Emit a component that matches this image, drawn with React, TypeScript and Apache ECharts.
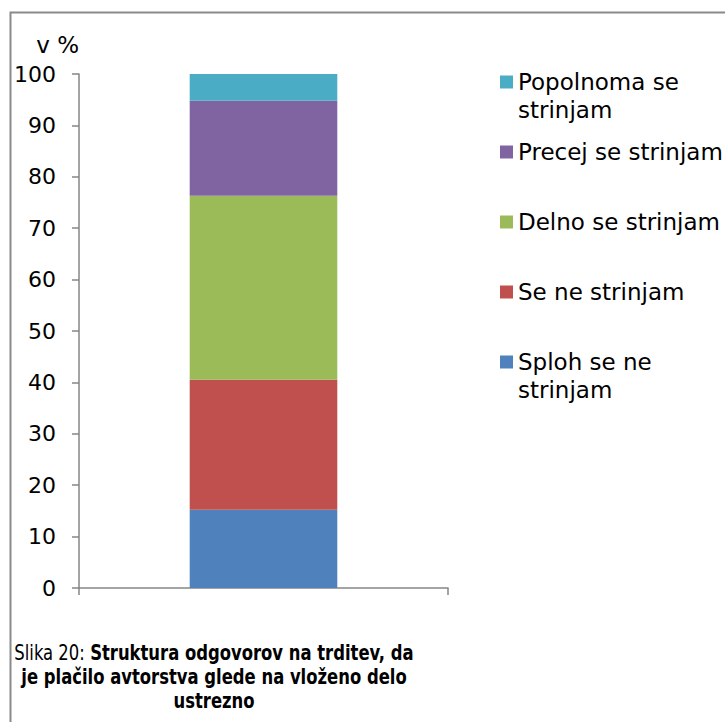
import React, { useEffect, useRef } from "react";
import * as echarts from "echarts";

const categories = [""];
const seriesNames = [
  "Sploh se ne strinjam",
  "Se ne strinjam",
  "Delno se strinjam",
  "Precej se strinjam",
  "Popolnoma se strinjam",
];
const legendLabels = [
  "\nSploh se ne\nstrinjam",
  "Se ne strinjam",
  "Delno se strinjam",
  "Precej se strinjam",
  "\nPopolnoma se\nstrinjam",
];
const seriesValues = [15.2, 25.3, 35.8, 18.5, 5.2];
const seriesColors = ["#4F81BD", "#C0504D", "#9BBB59", "#8064A2", "#4BACC6"];
const legendTops = [320, 278, 208, 138, 40];
const yTicks = { min: 0, max: 100, interval: 10 };
const captionLines = [
  "{a|Slika 20: }{b|Struktura odgovorov na trditev, da}",
  "{b|je plačilo avtorstva glede na vloženo delo}",
  "{b|ustrezno}",
];

export default function App() {
  const ref = useRef<HTMLDivElement>(null);
  useEffect(() => {
    if (!ref.current) return;
    const chart = echarts.init(ref.current, undefined, { renderer: "svg" });
    const font = "DejaVu Sans";
    const titleFont = "'DejaVu Sans Condensed', 'DejaVu Sans', sans-serif";
    const legends = seriesNames.map((name, i) => ({
      data: [name],
      left: 500,
      top: legendTops[i],
      padding: 0,
      itemWidth: 13,
      itemHeight: 13,
      icon: "rect",
      formatter: () => legendLabels[i],
      textStyle: { fontFamily: font, fontSize: 23, color: "#000", lineHeight: 28 },
      selectedMode: false,
    }));
    chart.setOption({
      animation: false,
      backgroundColor: "#fff",
      legend: legends,
      grid: { left: 79, right: 277, top: 74, bottom: 134, containLabel: false },
      xAxis: {
        type: "category",
        data: categories,
        boundaryGap: true,
        axisLine: { lineStyle: { color: "#868686", width: 1.5 } },
        axisTick: { show: true, length: 7, lineStyle: { color: "#868686", width: 1.5 } },
        axisLabel: { show: false },
      },
      yAxis: {
        type: "value",
        min: yTicks.min,
        max: yTicks.max,
        interval: yTicks.interval,
        name: "v %",
        nameLocation: "end",
        nameGap: 18,
        nameTextStyle: { fontFamily: font, fontSize: 23, color: "#000", align: "right", padding: [0, 0, 0, 0] },
        axisLine: { show: true, lineStyle: { color: "#868686", width: 1.5 } },
        axisTick: { show: true, length: 7, lineStyle: { color: "#868686", width: 1.5 } },
        axisLabel: { fontFamily: font, fontSize: 22, color: "#000", margin: 23 },
        splitLine: { show: false },
      },
      series: seriesNames.map((name, i) => ({
        name,
        type: "bar",
        stack: "total",
        barWidth: "40%",
        data: [seriesValues[i]],
        itemStyle: { color: seriesColors[i] },
      })),
      graphic: [
        {
          type: "polyline",
          shape: { points: [[10.5, 722], [10.5, 12.5], [725, 12.5]] },
          style: { stroke: "#8a8a8a", lineWidth: 2, fill: null },
          silent: true,
        },
        {
          type: "text",
          x: 214,
          y: 640,
          scaleX: 0.83,
          silent: true,
          style: {
            text: captionLines.join("\n"),
            align: "center",
            verticalAlign: "top",
            rich: {
              a: { fontFamily: titleFont, fontSize: 22, fill: "#000", lineHeight: 24 },
              b: { fontFamily: titleFont, fontSize: 22, fontWeight: "bold", fill: "#000", lineHeight: 24 },
            },
          },
        },
      ],
    });
    return () => chart.dispose();
  }, []);
  return <div ref={ref} style={{ width: 725, height: 722, position: "absolute", left: 0, top: 0 }} />;
}
